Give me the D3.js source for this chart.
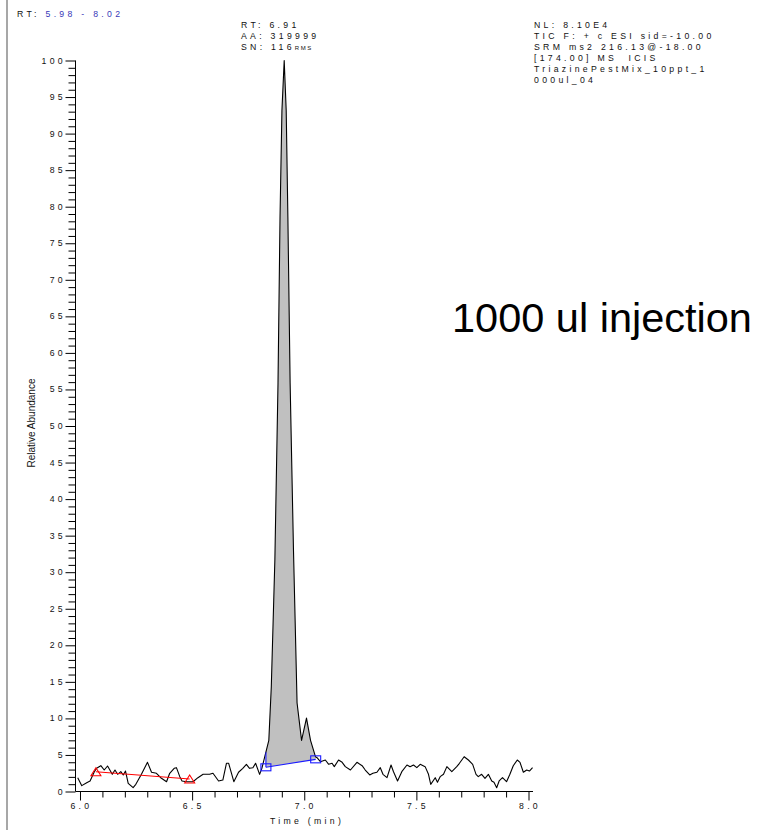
<!DOCTYPE html>
<html>
<head>
<meta charset="utf-8">
<script src="https://cdn.jsdelivr.net/npm/d3@7"></script>
<style>
  body { margin: 0; background: #fff; }
  svg text { font-family: "Liberation Sans", Arial, sans-serif; fill: #111; }
  .sp { letter-spacing: 3.3px; font-size: 8.7px; }
</style>
</head>
<body>
<svg id="chart" width="767" height="830"></svg>
<script>
// chromatogram trace (time in min, relative abundance %)
const timeMin = [
  5.990, 6.008, 6.030, 6.045, 6.064, 6.074, 6.093, 6.108, 6.123, 6.144,
  6.156, 6.168, 6.182, 6.193, 6.203, 6.215, 6.237, 6.249, 6.274, 6.301,
  6.319, 6.341, 6.360, 6.386, 6.400, 6.420, 6.430, 6.445, 6.455, 6.475,
  6.504, 6.526, 6.549, 6.578, 6.593, 6.618, 6.637, 6.653, 6.663, 6.686,
  6.707, 6.726, 6.742, 6.756, 6.771, 6.783, 6.801, 6.811, 6.824, 6.842,
  6.853, 6.869, 6.883, 6.892, 6.9005, 6.9106, 6.9195, 6.927, 6.937, 6.952,
  6.968, 6.988, 7.010, 7.028, 7.050, 7.057, 7.072, 7.094, 7.109, 7.124,
  7.134, 7.153, 7.169, 7.183, 7.206, 7.235, 7.258, 7.272, 7.292, 7.306,
  7.324, 7.339, 7.351, 7.369, 7.387, 7.398, 7.416, 7.435, 7.458, 7.472,
  7.487, 7.502, 7.517, 7.539, 7.554, 7.564, 7.584, 7.594, 7.606, 7.621,
  7.636, 7.658, 7.680, 7.692, 7.713, 7.732, 7.751, 7.766, 7.776, 7.791,
  7.806, 7.821, 7.836, 7.846, 7.858, 7.869, 7.884, 7.902, 7.917, 7.932,
  7.950, 7.962, 7.977, 7.992, 8.004, 8.018
];
const abundance = [
  1.89, 0.80, 1.21, 1.44, 2.71, 3.17, 3.53, 2.94, 3.49, 2.35,
  2.94, 2.35, 2.71, 2.26, 2.80, 1.12, 0.52, 0.98, 2.35, 3.99,
  2.63, 2.49, 1.89, 1.34, 2.49, 3.17, 3.26, 2.03, 1.44, 1.34,
  1.34, 1.89, 2.35, 2.35, 2.49, 1.44, 1.57, 3.86, 3.86, 1.34,
  2.63, 3.17, 3.72, 3.17, 3.26, 3.86, 2.35, 3.17, 4.76, 7.0,
  14.3, 31.7, 55.9, 78.6, 93.2, 100, 93.2, 78.6, 55.9, 33.0,
  12.1, 7.0, 10.05, 7.0, 4.76, 4.63, 4.08, 4.31, 3.72, 3.86,
  3.40, 4.31, 3.99, 3.40, 2.94, 3.99, 3.53, 2.94, 2.26, 2.49,
  2.63, 3.26, 2.35, 1.89, 3.63, 2.71, 1.44, 2.71, 3.63, 3.40,
  3.63, 3.26, 3.72, 3.40, 2.35, 0.98, 1.89, 1.26, 2.03, 2.35,
  3.40, 2.71, 3.40, 3.86, 4.76, 4.31, 3.72, 2.35, 2.03, 2.35,
  1.80, 2.35, 1.44, 1.26, 0.52, 1.44, 1.89, 1.34, 2.35, 3.53,
  4.31, 3.99, 2.63, 2.94, 2.80, 3.26
];

// integrated peak baseline (blue) and noise window (red)
const peakBaseT = [6.829, 7.051];
const peakBaseV = [3.31, 4.40];
const noiseT = [6.071, 6.489];
const noiseV = [2.71, 1.70];

const xMajor = [6.0, 6.5, 7.0, 7.5, 8.0];
const xMajorLabels = ["6.0", "6.5", "7.0", "7.5", "8.0"];
const yMajor = d3.range(0, 101, 5);

const headerRange = "5.98 - 8.02";
const peakLabels = ["RT: 6.91", "AA: 319999", "SN: 116"];
const infoLines = [
  "NL: 8.10E4",
  "TIC F: + c ESI sid=-10.00",
  "SRM ms2 216.13@-18.00",
  "[174.00] MS  ICIS",
  "TriazinePestMix_10ppt_1",
  "000ul_04"
];

const svg = d3.select("#chart");

const x = d3.scaleLinear().domain([5.98, 8.02]).range([75.5, 533]);
const y = d3.scaleLinear().domain([0, 100]).range([791.5, 60.5]);

// page border line on the left
svg.append("line")
  .attr("x1", 7).attr("x2", 7).attr("y1", 0).attr("y2", 830)
  .attr("stroke", "#8a8a8a").attr("stroke-width", 1.5);

// header
const hdr = svg.append("text").attr("class", "sp").attr("x", 17).attr("y", 17);
hdr.append("tspan").text("RT: ");
hdr.append("tspan").style("fill", "#3838b8").text(headerRange);

// peak fill between trace and baseline
const baseAt = d3.scaleLinear().domain(peakBaseT).range(peakBaseV);
const traceAt = d3.scaleLinear().domain(timeMin).range(abundance);
const fillPts = [{t: peakBaseT[0], v: traceAt(peakBaseT[0])}];
timeMin.forEach((t, i) => {
  if (t > peakBaseT[0] && t < peakBaseT[1]) fillPts.push({t: t, v: abundance[i]});
});
fillPts.push({t: peakBaseT[1], v: traceAt(peakBaseT[1])});

svg.append("path")
  .datum(fillPts)
  .attr("fill", "#c0c0c0")
  .attr("d", d3.area()
    .x(d => x(d.t))
    .y0(d => y(baseAt(d.t)))
    .y1(d => y(d.v)));

// trace
const pts = timeMin.map((t, i) => ({t: t, v: abundance[i]}));
svg.append("path")
  .datum(pts)
  .attr("fill", "none")
  .attr("stroke", "#000")
  .attr("stroke-width", 1.1)
  .attr("stroke-linejoin", "round")
  .attr("d", d3.line().x(d => x(d.t)).y(d => y(d.v)));

// blue baseline + markers
svg.append("line")
  .attr("x1", x(peakBaseT[0])).attr("y1", y(peakBaseV[0]))
  .attr("x2", x(peakBaseT[1])).attr("y2", y(peakBaseV[1]))
  .attr("stroke", "#1a1aff").attr("stroke-width", 1.1);
svg.append("line")
  .attr("x1", x(peakBaseT[0])).attr("x2", x(peakBaseT[0]))
  .attr("y1", y(peakBaseV[0])).attr("y2", y(traceAt(peakBaseT[0])))
  .attr("stroke", "#1a1aff").attr("stroke-width", 1.1);
peakBaseT.forEach((t, i) => {
  svg.append("rect")
    .attr("x", x(t) - 5).attr("y", y(peakBaseV[i]) - 3.5)
    .attr("width", 10).attr("height", 7)
    .attr("fill", "none").attr("stroke", "#1a1aff").attr("stroke-width", 1.1);
});

// red noise line + triangles
svg.append("line")
  .attr("x1", x(noiseT[0])).attr("y1", y(noiseV[0]))
  .attr("x2", x(noiseT[1])).attr("y2", y(noiseV[1]))
  .attr("stroke", "#f00").attr("stroke-width", 1.1);
noiseT.forEach((t, i) => {
  const cx = x(t), cy = y(noiseV[i]);
  svg.append("path")
    .attr("d", `M${cx - 5},${cy + 4}L${cx},${cy - 4}L${cx + 5},${cy + 4}Z`)
    .attr("fill", "none").attr("stroke", "#f00").attr("stroke-width", 1.1);
});

// y axis
const yAxis = svg.append("g").attr("transform", `translate(${x(5.98)},0)`);
yAxis.call(d3.axisLeft(y).tickValues(d3.range(0, 101, 1)).tickSize(7).tickFormat(""));
yAxis.call(g => g.selectAll(".tick").filter(d => d % 5 === 0).select("line").attr("x2", -10));
yAxis.select(".domain").attr("d", `M0,${y(0)}V${y(100)}`);
yAxis.selectAll("line, path").attr("stroke", "#000");

svg.append("g").selectAll("text")
  .data(yMajor)
  .join("text")
  .attr("class", "sp")
  .attr("x", 66)
  .attr("y", d => y(d) + 3)
  .attr("text-anchor", "end")
  .text(d => d);

// x axis
const xAxis = svg.append("g").attr("transform", `translate(0,${y(0)})`);
xAxis.call(d3.axisBottom(x).tickValues(d3.range(6.0, 8.001, 0.1)).tickSize(6).tickFormat(""));
xAxis.call(g => g.selectAll(".tick").filter(d => Math.abs(d * 2 - Math.round(d * 2)) < 1e-6).select("line").attr("y2", 9));
xAxis.select(".domain").attr("d", `M${x(5.98)},0H${x(8.02)}`);
xAxis.selectAll("line, path").attr("stroke", "#000");

svg.append("g").selectAll("text")
  .data(xMajor)
  .join("text")
  .attr("class", "sp")
  .attr("x", d => x(d) + 1.5)
  .attr("y", 809)
  .attr("text-anchor", "middle")
  .text((d, i) => xMajorLabels[i]);

svg.append("text")
  .attr("class", "sp")
  .attr("x", 307).attr("y", 824)
  .attr("text-anchor", "middle")
  .text("Time (min)");

svg.append("text")
  .attr("transform", "translate(35,423) rotate(-90)")
  .attr("text-anchor", "middle")
  .style("font-size", "10px")
  .text("Relative Abundance");

// peak annotation
const ann = svg.append("g");
peakLabels.forEach((s, i) => {
  const t = ann.append("text").attr("class", "sp").attr("x", 241).attr("y", 28 + i * 10.9).text(s);
  if (i === 2) t.append("tspan").style("font-size", "6px").style("letter-spacing", "1.5px").text("RMS");
});

// scan info
svg.append("g").selectAll("text")
  .data(infoLines)
  .join("text")
  .attr("class", "sp")
  .attr("x", 534)
  .attr("y", (d, i) => 28 + i * 10.9)
  .style("white-space", "pre")
  .text(d => d);

svg.append("text")
  .attr("x", 452).attr("y", 332)
  .style("font-size", "41.5px")
  .style("fill", "#000")
  .text("1000 ul injection");
</script>
</body>
</html>
